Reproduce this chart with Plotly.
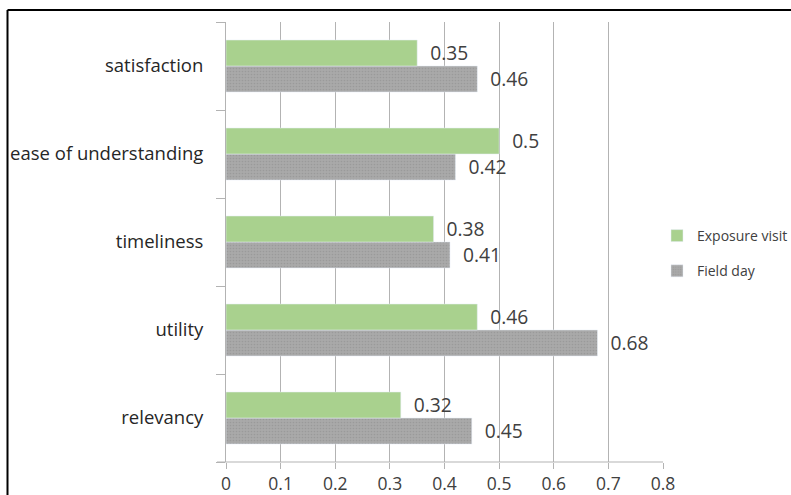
import plotly.graph_objects as go

# Categories listed bottom-to-top as they appear on the axis
categories = ["relevancy", "utility", "timeliness", "ease of understanding", "satisfaction"]
exposure_visit = [0.32, 0.46, 0.38, 0.5, 0.35]
field_day = [0.45, 0.68, 0.41, 0.42, 0.46]
x_ticks = [0, 0.1, 0.2, 0.3, 0.4, 0.5, 0.6, 0.7, 0.8]

FONT = "Open Sans, sans-serif"
TXT = "#404040"
GRID = "#b3b3b3"

W, H = 791, 495
ML, MR, MT, MB = 226, 128, 22, 33
PW, PH = W - ML - MR, H - MT - MB


def px_x(p):
    return (p - ML) / PW


def px_y(p):
    return (H - MB - p) / PH


fig = go.Figure()

fig.add_trace(go.Bar(
    y=categories, x=field_day, orientation="h", name="Field day",
    legendgroup="fd", legendrank=2,
    marker=dict(color="#a6a6a6",
                pattern=dict(shape=".", fgcolor="#8c8c8c", bgcolor="#a9a9a9",
                             size=3, solidity=0.25)),
    text=[f"  {v:g}" for v in field_day], textposition="outside",
    textfont=dict(size=20, color=TXT, family=FONT), cliponaxis=False,
))
fig.add_trace(go.Bar(
    y=categories, x=exposure_visit, orientation="h", name="Exposure visit",
    legendgroup="ev", legendrank=1,
    marker=dict(color="#a9d18e"),
    text=[f"  {v:g}" for v in exposure_visit], textposition="outside",
    textfont=dict(size=20, color=TXT, family=FONT), cliponaxis=False,
))

# Outer frame lines (left and top edges)
frame = dict(color="black", width=2)
fig.add_shape(type="line", xref="paper", yref="paper",
              x0=px_x(7.5), x1=px_x(7.5), y0=px_y(500), y1=px_y(10), line=frame)
fig.add_shape(type="line", xref="paper", yref="paper",
              x0=px_x(7.5), x1=px_x(800), y0=px_y(10), y1=px_y(10), line=frame)

# x-axis baseline running slightly past the y-axis
fig.add_shape(type="line", xref="paper", yref="paper",
              x0=px_x(217), x1=1, y0=0, y1=0,
              line=dict(color=GRID, width=1))

fig.update_layout(
    width=W, height=H,
    margin=dict(l=ML, r=MR, t=MT, b=MB, pad=0, autoexpand=False),
    paper_bgcolor="white", plot_bgcolor="white",
    barmode="group", bargap=0.41, bargroupgap=0,
    font=dict(family=FONT, color=TXT, size=16),
    legend=dict(x=px_x(657), xanchor="left", y=px_y(253.5), yanchor="middle",
                traceorder="grouped", tracegroupgap=14,
                font=dict(size=14, color=TXT, family=FONT),
                itemwidth=30, bgcolor="rgba(0,0,0,0)"),
    xaxis=dict(range=[0, 0.8], tickvals=x_ticks,
               ticktext=[f"{v:g}" for v in x_ticks],
               showgrid=True, gridcolor=GRID, gridwidth=1,
               zeroline=False, showline=False,
               ticks="outside", ticklen=6, tickcolor=GRID,
               tickfont=dict(size=17.5, color=TXT, family=FONT)),
    yaxis=dict(type="category", categoryorder="array", categoryarray=categories,
               showgrid=False, zeroline=False,
               showline=True, linecolor=GRID, linewidth=1,
               ticks="outside", ticklen=9, tickcolor=GRID,
               tickson="boundaries", ticklabelstandoff=18,
               tickfont=dict(size=18.5, color="#262626", family=FONT)),
)

fig.write_html("out.html")
